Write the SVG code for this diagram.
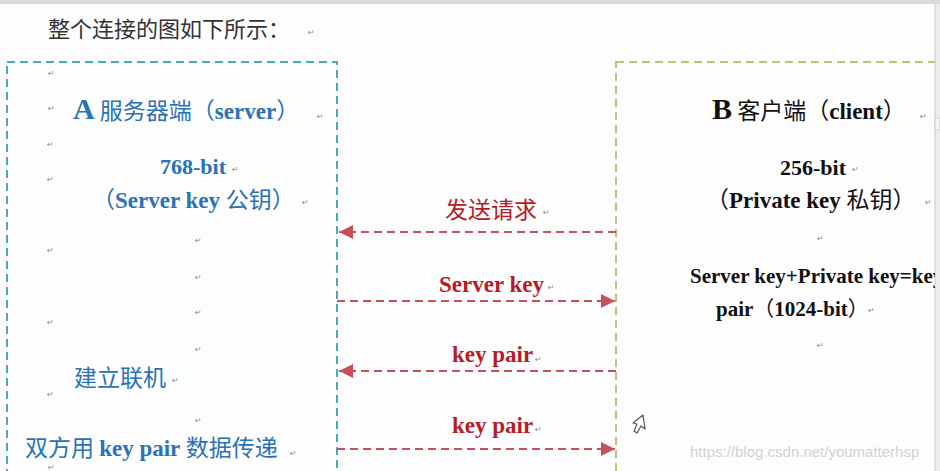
<svg xmlns="http://www.w3.org/2000/svg" width="940" height="471" viewBox="0 0 940 471">
<style>
.pm{font-family:"DejaVu Sans",sans-serif;font-size:8px;fill:#8a8a8a}
.zh{font-family:"Noto Sans CJK SC",sans-serif}
.en{font-family:"Liberation Serif","Noto Sans CJK SC",serif;font-weight:bold}
.blue{fill:#2872b5}
.blk{fill:#111111}
.red{fill:#b51c26}
.arr{stroke:#c8505c;stroke-width:2;stroke-dasharray:8 5;fill:none}
</style>
<defs>
<marker id="ah" markerUnits="userSpaceOnUse" markerWidth="16" markerHeight="14" refX="14" refY="7" orient="auto">
<path d="M0,0 L14,7 L0,14 Z" fill="#c8505c"/>
</marker>
<clipPath id="page"><rect x="0" y="0" width="935" height="471"/></clipPath>
</defs>
<rect x="0" y="0" width="940" height="471" fill="#fdfdfd"/>
<rect x="935" y="0" width="5" height="471" fill="#ececec"/>
<line x1="935" y1="0" x2="935" y2="471" stroke="#c8c8c8" stroke-width="1"/>
<rect x="935" y="118" width="5" height="12" fill="#f4f4f4" stroke="#c8c8c8" stroke-width="0.8"/>
<rect x="0" y="0" width="940" height="4" fill="#dadada"/>
<g id="title">
<text x="48" y="37" class="zh" font-size="22" fill="#333333">整个连接的图如下所示：</text>
<text x="308" y="35" class="pm">↵</text>
</g>
<g clip-path="url(#page)">
<g id="nodeA">
<rect x="7" y="62" width="330" height="430" fill="none" stroke="#4aaab8" stroke-width="2" stroke-dasharray="8 5"/>
<text x="73" y="119" class="blue"><tspan class="en" font-size="30">A</tspan><tspan class="zh" font-size="23"> 服务器端（</tspan><tspan class="en" font-size="23">server</tspan><tspan class="zh" font-size="23">）</tspan></text>
<text x="160" y="174" class="en blue" font-size="22">768-bit</text>
<text x="92" y="208" class="blue" font-size="23"><tspan class="zh">（</tspan><tspan class="en">Server key </tspan><tspan class="zh">公钥）</tspan></text>
<text x="74" y="386" class="zh blue" font-size="23">建立联机</text>
<text x="25" y="456" class="blue" font-size="23"><tspan class="zh">双方用 </tspan><tspan class="en">key pair </tspan><tspan class="zh">数据传递</tspan></text>
</g>
<g id="nodeB">
<rect x="616" y="62" width="340" height="430" fill="none" stroke="#c2c274" stroke-width="2" stroke-dasharray="8 5"/>
<text x="712" y="119" class="blk"><tspan class="en" font-size="30">B</tspan><tspan class="zh" font-size="23"> 客户端（</tspan><tspan class="en" font-size="23">client</tspan><tspan class="zh" font-size="23">）</tspan></text>
<text x="780" y="175" class="en blk" font-size="22">256-bit</text>
<text x="706" y="208" class="blk" font-size="23"><tspan class="zh">（</tspan><tspan class="en">Private key </tspan><tspan class="zh">私钥）</tspan></text>
<text x="690" y="283" class="en blk" font-size="21">Server key+Private key=key</text>
<text x="716" y="316" class="blk" font-size="21"><tspan class="en">pair</tspan><tspan class="zh">（</tspan><tspan class="en">1024-bit</tspan><tspan class="zh">）</tspan></text>
</g>
</g>
<g id="connectors">
<line x1="616" y1="232" x2="339" y2="232" class="arr" marker-end="url(#ah)"/>
<line x1="337" y1="301" x2="615" y2="301" class="arr" marker-end="url(#ah)"/>
<line x1="616" y1="371" x2="339" y2="371" class="arr" marker-end="url(#ah)"/>
<line x1="337" y1="449" x2="615" y2="449" class="arr" marker-end="url(#ah)"/>
<text x="445" y="218" class="zh red" font-size="23">发送请求</text>
<text x="439" y="292" class="en red" font-size="23">Server key</text>
<text x="452" y="362" class="en red" font-size="23">key pair</text>
<text x="452" y="433" class="en red" font-size="23">key pair</text>
</g>
<g id="marks">
<text x="48" y="76" class="pm">↵</text>
<text x="48" y="111" class="pm">↵</text>
<text x="317" y="119" class="pm">↵</text>
<text x="47" y="147" class="pm">↵</text>
<text x="232" y="172" class="pm">↵</text>
<text x="47" y="182" class="pm">↵</text>
<text x="302" y="205" class="pm">↵</text>
<text x="195" y="243" class="pm">↵</text>
<text x="47" y="253" class="pm">↵</text>
<text x="195" y="280" class="pm">↵</text>
<text x="195" y="315" class="pm">↵</text>
<text x="47" y="325" class="pm">↵</text>
<text x="195" y="352" class="pm">↵</text>
<text x="172" y="383" class="pm">↵</text>
<text x="47" y="397" class="pm">↵</text>
<text x="195" y="423" class="pm">↵</text>
<text x="290" y="456" class="pm">↵</text>
<text x="48" y="470" class="pm">↵</text>
<text x="920" y="119" class="pm">↵</text>
<text x="852" y="172" class="pm">↵</text>
<text x="925" y="205" class="pm">↵</text>
<text x="817" y="241" class="pm">↵</text>
<text x="868" y="313" class="pm">↵</text>
<text x="817" y="348" class="pm">↵</text>
<text x="543" y="215" class="pm">↵</text>
<text x="548" y="290" class="pm">↵</text>
<text x="535" y="362" class="pm">↵</text>
<text x="535" y="432" class="pm">↵</text>
</g>
<path d="M643,415 L645,429 L641,426 L637,433 L634,431 L637,424 L633,423 Z" fill="#ffffff" stroke="#555555" stroke-width="1.2" stroke-linejoin="round"/>
<text x="690" y="457" font-family="Liberation Sans,sans-serif" font-size="15" fill="#d2d2d2">https://blog.csdn.net/youmatterhsp</text>
</svg>
